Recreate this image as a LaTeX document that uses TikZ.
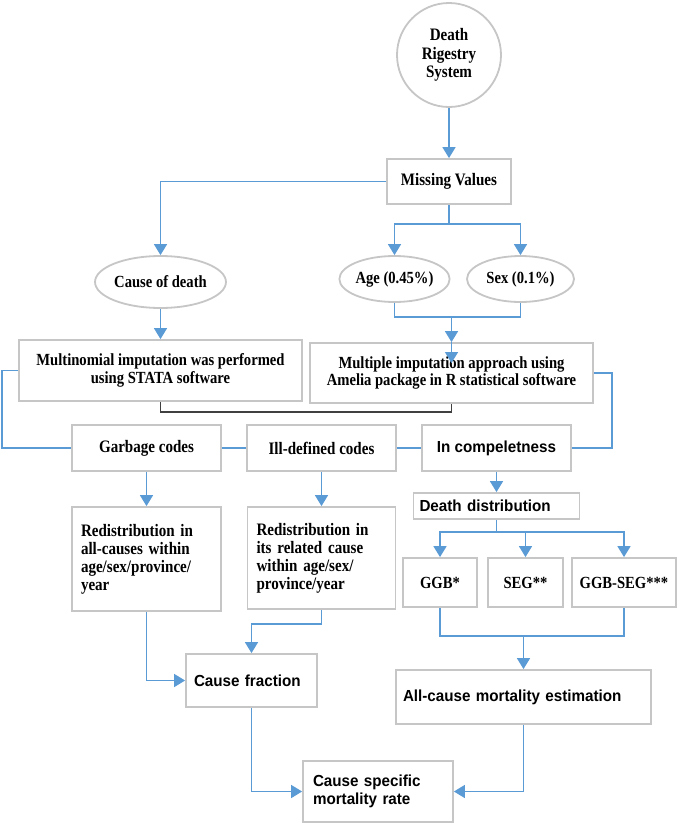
\documentclass[tikz,border=0pt]{standalone}
\usepackage{fontspec}
\setmainfont{Liberation Serif}
\setsansfont{Liberation Sans}
\newfontfamily\cserif{Liberation Serif}[FakeStretch=0.86]
\newfontfamily\csans{Liberation Sans}[FakeStretch=0.95]
\usetikzlibrary{shapes.geometric,arrows.meta}
\definecolor{lineblue}{RGB}{91,155,213}
\definecolor{boxgray}{RGB}{198,198,198}
\definecolor{darkline}{RGB}{64,64,64}
\newcommand\serifbf{\fontsize{17.5}{18}\selectfont\cserif\bfseries}
\newcommand\serifbfs{\fontsize{17}{17.5}\selectfont\cserif\bfseries}
\newcommand\sansbf{\fontsize{16}{18}\selectfont\csans\bfseries}
\begin{document}
\begin{tikzpicture}[x=1pt,y=-1pt,
  box/.style={draw=boxgray,line width=1.8pt,rectangle,inner sep=0pt,fill=white},
  ell/.style={draw=boxgray,line width=1.8pt,ellipse,inner sep=0pt,fill=white,font=\fontsize{17}{18}\selectfont\cserif\bfseries},
  link/.style={draw=lineblue,line width=1.6pt},
  arr/.style={link,-{Triangle[width=13pt,length=11pt]}},
]
\useasboundingbox (0,0) rectangle (680,827);

% nodes
\node[draw=boxgray,line width=1.8pt,circle,minimum size=104pt,inner sep=0pt,align=center,font=\fontsize{17.5}{18.5}\selectfont\cserif\bfseries] (drs) at (449,55) {Death\\Rigestry\\System};
\node[box,minimum width=124pt,minimum height=45pt,font=\serifbf] (mv) at (449,181.5) {Missing Values};
\node[ell,minimum width=107pt,minimum height=52pt] (cod) at (160.5,282) {Cause of death};
\node[ell,minimum width=107pt,minimum height=46pt] (age) at (394.5,279) {Age (0.45\%)};
\node[ell,minimum width=107pt,minimum height=46pt] (sex) at (520.5,279) {Sex (0.1\%)};
\node[box,minimum width=283pt,minimum height=61pt,align=center,font=\serifbfs] (multi) at (160.5,370.5) {Multinomial imputation was performed\\using STATA software};
\node[box,minimum width=283pt,minimum height=60pt,align=center,font=\serifbfs] (mult2) at (451.5,373) {Multiple imputation approach using\\Amelia package in R statistical software};
\node[box,minimum width=149pt,minimum height=46pt,font=\serifbf] (gc) at (146.5,448) {Garbage codes};
\node[box,minimum width=149pt,minimum height=46pt,font=\serifbf] (idc) at (321.5,448) {Ill-defined codes};
\node[box,minimum width=149pt,minimum height=46pt,font=\sansbf] (inc) at (496.5,448) {In compeletness};
\node[box,minimum width=166pt,minimum height=26pt,text width=154pt,align=left,font=\sansbf] (dd) at (496.5,506) {Death distribution};
\node[box,minimum width=149pt,minimum height=104pt,text width=131pt,align=left,font=\serifbf] (red1) at (146.5,559) {Redistribution in\\all-causes within\\age/sex/province/\\year};
\node[box,minimum width=148pt,minimum height=102pt,text width=130pt,align=left,font=\serifbf] (red2) at (321.5,558) {Redistribution in\\its related cause\\within age/sex/\\province/year};
\node[box,minimum width=74pt,minimum height=49pt,font=\serifbfs] (ggb) at (440,582.5) {GGB*};
\node[box,minimum width=75pt,minimum height=49pt,font=\serifbfs] (seg) at (525.5,582.5) {SEG**};
\node[box,minimum width=104pt,minimum height=49pt,font=\serifbfs] (ggbseg) at (624,582.5) {GGB-SEG***};
\node[box,minimum width=131pt,minimum height=53pt,text width=115pt,align=left,font=\sansbf] (cf) at (251.5,680.5) {Cause fraction};
\node[box,minimum width=255pt,minimum height=54pt,text width=241pt,align=left,font=\sansbf] (acm) at (523.5,697) {All-cause mortality estimation};
\node[box,minimum width=150pt,minimum height=61pt,text width=130pt,align=left,font=\sansbf] (csm) at (378,791.5) {Cause specific\\mortality rate};

% junctions
\coordinate (j1) at (449,224);
\coordinate (j2) at (451.5,317);
\coordinate (j3) at (496.5,532);
\coordinate (j4) at (523.5,636);
\coordinate (inner) at (451.5,363);

% connectors
\draw[arr] (drs.south) -- (mv.north);
\draw[arr] (mv.west) -| (cod.north);
\draw[link] (mv.south) -- (j1);
\draw[arr] (j1) -| (age.north);
\draw[arr] (j1) -| (sex.north);
\draw[arr] (cod.south) -- (multi.north);
\draw[link] (age.south) |- (j2) -| (sex.south);
\draw[arr] (j2) -- (mult2.north);
\draw[arr] (mult2.north) -- (inner);
\draw[darkline,line width=1.6pt] (multi.south) -- ++(0,10) -| (mult2.south);
\draw[link] (multi.west) -- ++(-16,0) |- (gc.west);
\draw[link] (mult2.east) -- ++(18,0) |- (inc.east);
\draw[link] (gc.east) -- (idc.west);
\draw[link] (idc.east) -- (inc.west);
\draw[arr] (gc.south) -- (red1.north);
\draw[arr] (idc.south) -- (red2.north);
\draw[arr] (inc.south) -- (dd.north);
\draw[link] (dd.south) -- (j3);
\draw[arr] (j3) -| (ggb.north);
\draw[arr] (j3) -| (seg.north);
\draw[arr] (j3) -| (ggbseg.north);
\draw[link] (ggb.south) |- (j4) -| (ggbseg.south);
\draw[arr] (j4) -- (acm.north);
\draw[arr] (red1.south) |- (cf.west);
\draw[arr] (red2.south) -- ++(0,14) -| (cf.north);
\draw[arr] (cf.south) |- (csm.west);
\draw[arr] (acm.south) |- (csm.east);
\end{tikzpicture}
\end{document}
